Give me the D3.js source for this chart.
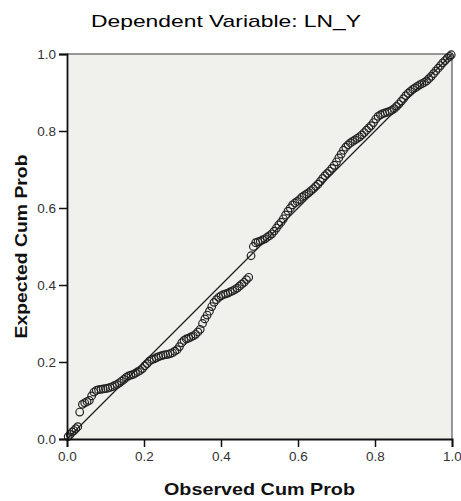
<!DOCTYPE html>
<html>
<head>
<meta charset="utf-8">
<script src="https://cdn.jsdelivr.net/npm/d3@7"></script>
<style>
  body { margin: 0; background: #fff; }
  svg { display: block; font-family: Arial, "Liberation Sans", sans-serif; }
</style>
</head>
<body>
<div id="chart"></div>
<script>
const chartTitle = "Dependent Variable: LN_Y";
const xLabel = "Observed Cum Prob";
const yLabel = "Expected Cum Prob";
const tickValues = [0, 0.2, 0.4, 0.6, 0.8, 1.0];

// observed / expected cumulative probabilities
const observed = [
  0.003, 0.008, 0.013, 0.018, 0.023, 0.028, 0.033, 0.040, 0.046, 0.052,
  0.058, 0.064, 0.070, 0.076, 0.082, 0.088, 0.094, 0.100, 0.106, 0.112,
  0.118, 0.124, 0.130, 0.136, 0.142, 0.148, 0.154, 0.160, 0.166, 0.172,
  0.178, 0.184, 0.190, 0.196, 0.202, 0.208, 0.214, 0.220, 0.226, 0.232,
  0.238, 0.244, 0.250, 0.256, 0.262, 0.268, 0.274, 0.280, 0.286, 0.292,
  0.298, 0.304, 0.310, 0.316, 0.322, 0.328, 0.334, 0.340, 0.346, 0.352,
  0.358, 0.364, 0.370, 0.376, 0.382, 0.388, 0.394, 0.400, 0.406, 0.412,
  0.418, 0.424, 0.430, 0.436, 0.442, 0.448, 0.454, 0.460, 0.466, 0.472,
  0.478, 0.484, 0.490, 0.496, 0.502, 0.508, 0.514, 0.520, 0.526, 0.532,
  0.538, 0.544, 0.550, 0.556, 0.562, 0.568, 0.574, 0.580, 0.586, 0.592,
  0.598, 0.604, 0.610, 0.616, 0.622, 0.628, 0.634, 0.640, 0.646, 0.652,
  0.658, 0.664, 0.670, 0.676, 0.682, 0.688, 0.694, 0.700, 0.706, 0.712,
  0.718, 0.724, 0.730, 0.736, 0.742, 0.748, 0.754, 0.760, 0.766, 0.772,
  0.778, 0.784, 0.790, 0.796, 0.802, 0.808, 0.814, 0.820, 0.826, 0.832,
  0.838, 0.844, 0.850, 0.856, 0.862, 0.868, 0.874, 0.880, 0.886, 0.892,
  0.898, 0.904, 0.910, 0.916, 0.922, 0.928, 0.934, 0.940, 0.946, 0.952,
  0.958, 0.964, 0.970, 0.976, 0.982, 0.988, 0.994, 0.998
];
const expected = [
  0.006, 0.012, 0.018, 0.022, 0.027, 0.032, 0.070, 0.090, 0.094, 0.097,
  0.100, 0.112, 0.122, 0.126, 0.128, 0.129, 0.130, 0.131, 0.132, 0.134,
  0.136, 0.139, 0.142, 0.146, 0.150, 0.155, 0.160, 0.164, 0.166, 0.168,
  0.171, 0.175, 0.178, 0.183, 0.190, 0.196, 0.202, 0.206, 0.208, 0.211,
  0.214, 0.216, 0.218, 0.219, 0.220, 0.222, 0.224, 0.228, 0.232, 0.240,
  0.250, 0.256, 0.260, 0.262, 0.265, 0.268, 0.272, 0.278, 0.285, 0.300,
  0.312, 0.322, 0.332, 0.344, 0.355, 0.362, 0.368, 0.372, 0.375, 0.377,
  0.379, 0.382, 0.385, 0.388, 0.392, 0.397, 0.402, 0.407, 0.414, 0.420,
  0.476, 0.500, 0.510, 0.512, 0.514, 0.517, 0.520, 0.524, 0.528, 0.533,
  0.540, 0.548, 0.556, 0.563, 0.572, 0.582, 0.592, 0.600, 0.608, 0.613,
  0.617, 0.622, 0.628, 0.632, 0.636, 0.640, 0.645, 0.650, 0.656, 0.662,
  0.669, 0.677, 0.684, 0.690, 0.696, 0.703, 0.711, 0.720, 0.730, 0.740,
  0.750, 0.758, 0.764, 0.769, 0.773, 0.777, 0.781, 0.785, 0.790, 0.796,
  0.802, 0.808, 0.814, 0.822, 0.831, 0.838, 0.842, 0.845, 0.847, 0.849,
  0.851, 0.854, 0.858, 0.864, 0.870, 0.877, 0.884, 0.892, 0.898, 0.903,
  0.908, 0.912, 0.916, 0.920, 0.923, 0.926, 0.930, 0.936, 0.942, 0.949,
  0.956, 0.963, 0.970, 0.977, 0.983, 0.989, 0.994, 0.998
];

const W = 461, H = 501;
const margin = {top: 54, right: 9, bottom: 62, left: 67};
const width = W - margin.left - margin.right,
      height = H - margin.top - margin.bottom;

const svg = d3.select("#chart")
  .append("svg")
    .attr("width", W)
    .attr("height", H);

const g = svg.append("g")
  .attr("transform", `translate(${margin.left},${margin.top})`);

const x = d3.scaleLinear().domain([0, 1]).range([0, width]);
const y = d3.scaleLinear().domain([0, 1]).range([height, 0]);

// plot area
g.append("rect")
  .attr("width", width)
  .attr("height", height)
  .attr("fill", "#f0f0ed");

// top and right frame
g.append("path")
  .attr("d", `M0,0H${width}V${height}`)
  .attr("fill", "none")
  .attr("stroke", "#777")
  .attr("stroke-width", 1.5);

// reference line
g.append("path")
  .attr("d", d3.line()([[x(0), y(0)], [x(1), y(1)]]))
  .attr("stroke", "#222")
  .attr("stroke-width", 1.2);

const data = observed.map((d, i) => ({obs: d, exp: expected[i]}));

g.selectAll("circle")
  .data(data)
  .join("circle")
    .attr("cx", d => x(d.obs))
    .attr("cy", d => y(d.exp))
    .attr("r", 3.8)
    .attr("fill", "none")
    .attr("stroke", "#222")
    .attr("stroke-width", 1.2);

const fmt = d3.format(".1f");

const xAxis = g.append("g")
  .attr("transform", `translate(0,${height})`)
  .call(d3.axisBottom(x).tickValues(tickValues).tickFormat(fmt).tickSize(8).tickPadding(4));

const yAxis = g.append("g")
  .call(d3.axisLeft(y).tickValues(tickValues).tickFormat(fmt).tickSize(8).tickPadding(3));

[xAxis, yAxis].forEach(a => {
  a.select(".domain").attr("stroke", "#111").attr("stroke-width", 1.8);
  a.selectAll(".tick line").attr("stroke", "#111").attr("stroke-width", 1.5);
  a.selectAll(".tick text")
    .attr("fill", "#333")
    .style("font-size", "13.5px")
    .style("font-family", "Arial, 'Liberation Sans', sans-serif");
});

svg.append("text")
  .attr("x", 226)
  .attr("y", 27)
  .attr("text-anchor", "middle")
  .attr("fill", "#000")
  .attr("textLength", 270)
  .attr("lengthAdjust", "spacingAndGlyphs")
  .style("font-size", "17px")
  .text(chartTitle);

svg.append("text")
  .attr("x", margin.left + width / 2)
  .attr("y", 495)
  .attr("text-anchor", "middle")
  .attr("fill", "#111")
  .attr("textLength", 191)
  .attr("lengthAdjust", "spacingAndGlyphs")
  .style("font-size", "17px")
  .style("font-weight", "bold")
  .text(xLabel);

svg.append("text")
  .attr("transform", `translate(27,${margin.top + height / 2}) rotate(-90)`)
  .attr("text-anchor", "middle")
  .attr("fill", "#111")
  .attr("textLength", 184)
  .attr("lengthAdjust", "spacingAndGlyphs")
  .style("font-size", "17px")
  .style("font-weight", "bold")
  .text(yLabel);
</script>
</body>
</html>
